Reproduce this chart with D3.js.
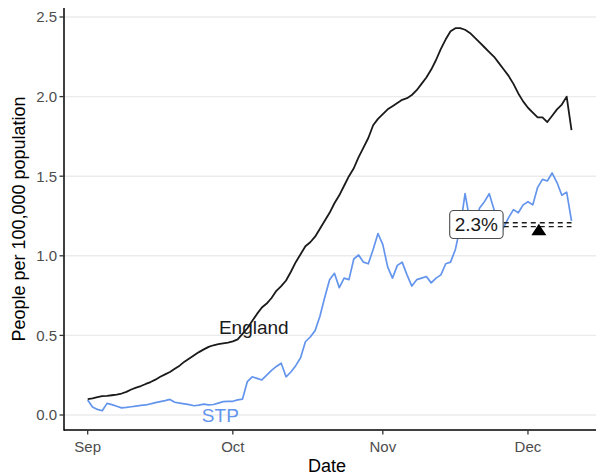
<!DOCTYPE html>
<html>
<head>
<meta charset="utf-8">
<script src="https://cdn.jsdelivr.net/npm/d3@7"></script>
<style>
  html, body { margin: 0; padding: 0; background: #fff; }
  svg { display: block; font-family: "Liberation Sans", Arial, sans-serif; }
</style>
</head>
<body>
<svg id="chart" width="596" height="475"></svg>
<script>
// ---- Data ----
const startDate = new Date(2020, 8, 1); // 1 Sep
const england = [
  0.100, 0.105, 0.112, 0.118, 0.120, 0.124, 0.128, 0.135, 0.145, 0.160,
  0.172, 0.182, 0.195, 0.207, 0.222, 0.240, 0.255, 0.270, 0.290, 0.310,
  0.335, 0.355, 0.375, 0.395, 0.412, 0.428, 0.438, 0.445, 0.450, 0.455,
  0.462, 0.475, 0.510, 0.545, 0.590, 0.635, 0.675, 0.700, 0.735, 0.780,
  0.810, 0.845, 0.900, 0.960, 1.010, 1.060, 1.085, 1.120, 1.170, 1.220,
  1.270, 1.330, 1.380, 1.440, 1.500, 1.550, 1.620, 1.680, 1.740, 1.820,
  1.860, 1.890, 1.920, 1.940, 1.960, 1.980, 1.990, 2.010, 2.040, 2.080,
  2.120, 2.170, 2.230, 2.300, 2.360, 2.410, 2.430, 2.430, 2.420, 2.400,
  2.370, 2.340, 2.310, 2.280, 2.250, 2.210, 2.170, 2.130, 2.080, 2.020,
  1.970, 1.930, 1.900, 1.870, 1.870, 1.840, 1.880, 1.920, 1.950, 2.000,
  1.790
];
const stp = [
  0.094, 0.050, 0.035, 0.027, 0.073, 0.065, 0.055, 0.045, 0.048, 0.052,
  0.056, 0.060, 0.063, 0.070, 0.078, 0.084, 0.090, 0.098, 0.080, 0.075,
  0.070, 0.065, 0.058, 0.062, 0.068, 0.064, 0.066, 0.075, 0.084, 0.085,
  0.086, 0.095, 0.100, 0.210, 0.240, 0.230, 0.220, 0.250, 0.280, 0.305,
  0.325, 0.240, 0.270, 0.310, 0.360, 0.460, 0.490, 0.530, 0.620, 0.740,
  0.850, 0.890, 0.800, 0.860, 0.850, 0.980, 1.005, 0.960, 0.950, 1.040,
  1.140, 1.070, 0.930, 0.860, 0.940, 0.960, 0.880, 0.810, 0.850, 0.860,
  0.870, 0.830, 0.860, 0.880, 0.950, 0.960, 1.040, 1.180, 1.390, 1.220,
  1.180, 1.300, 1.340, 1.390, 1.290, 1.120, 1.180, 1.240, 1.290, 1.270,
  1.320, 1.340, 1.320, 1.430, 1.480, 1.470, 1.520, 1.460, 1.380, 1.400,
  1.220
];
const yTicks = [0, 0.5, 1.0, 1.5, 2.0, 2.5];
const xTickDates = [new Date(2020, 8, 1), new Date(2020, 9, 1), new Date(2020, 10, 1), new Date(2020, 11, 1)];
const xTickLabels = ["Sep", "Oct", "Nov", "Dec"];

// Annotation values
const seriesLabels = [
  { text: "England", date: new Date(2020, 9, 5, 8), value: 0.553, color: "#1a1a1a" },
  { text: "STP", date: new Date(2020, 8, 28, 10), value: 0.0, color: "#6495ED" }
];
const pctLabel = { text: "2.3%", date: new Date(2020, 10, 20, 8), value: 1.19 };
const refLines = [
  { from: new Date(2020, 10, 26), to: new Date(2020, 11, 10), value: 1.208 },
  { from: new Date(2020, 10, 26), to: new Date(2020, 11, 10), value: 1.183 }
];
const refPoint = { date: new Date(2020, 11, 3, 6), value: 1.163 };

// ---- Chart ----
const dates = england.map((_, i) => d3.timeDay.offset(startDate, i));
const svg = d3.select("#chart");

const x = d3.scaleTime()
  .domain([new Date(2020, 7, 27), new Date(2020, 11, 15)])
  .range([63.5, 595.7]);
const y = d3.scaleLinear().domain([0, 2.5]).range([415, 17]);
const panelTop = 8, panelBottom = 430, panelLeft = 64, panelRight = 596;

// grid
svg.append("g").selectAll("line").data(yTicks).join("line")
  .attr("x1", panelLeft).attr("x2", panelRight)
  .attr("y1", d => y(d)).attr("y2", d => y(d))
  .attr("stroke", "#ebebeb").attr("stroke-width", 1.4);

// lines
const line = d3.line().x((d, i) => x(dates[i])).y(d => y(d));
svg.append("path").datum(stp)
  .attr("d", line).attr("fill", "none")
  .attr("stroke", "#6495ED").attr("stroke-width", 1.7).attr("stroke-linejoin", "round");
svg.append("path").datum(england)
  .attr("d", line).attr("fill", "none")
  .attr("stroke", "#1a1a1a").attr("stroke-width", 1.8).attr("stroke-linejoin", "round");

// reference dashed lines
svg.append("g").selectAll("line").data(refLines).join("line")
  .attr("x1", d => x(d.from)).attr("x2", d => x(d.to))
  .attr("y1", d => y(d.value)).attr("y2", d => y(d.value))
  .attr("stroke", "#1a1a1a").attr("stroke-width", 1.4)
  .attr("stroke-dasharray", "5,4");

// triangle
{
  const cx = x(refPoint.date), cy = y(refPoint.value);
  svg.append("path")
    .attr("d", `M${cx - 7.5},${cy + 5.5}L${cx + 7.5},${cy + 5.5}L${cx},${cy - 6}Z`)
    .attr("fill", "#000");
}

// percentage label box
{
  const cx = x(pctLabel.date), cy = y(pctLabel.value) - 1;
  const g = svg.append("g");
  const t = g.append("text")
    .attr("x", cx).attr("y", cy).attr("dy", "0.36em")
    .attr("text-anchor", "middle")
    .attr("font-size", 19).attr("fill", "#1a1a1a")
    .text(pctLabel.text);
  const bb = t.node().getBBox();
  g.insert("rect", "text")
    .attr("x", bb.x - 5).attr("y", cy - 14)
    .attr("width", bb.width + 10).attr("height", 28)
    .attr("rx", 4).attr("ry", 4)
    .attr("fill", "#fff").attr("stroke", "#4d4d4d").attr("stroke-width", 1.1);
}

// series labels
svg.append("g").selectAll("text").data(seriesLabels).join("text")
  .attr("x", d => x(d.date)).attr("y", d => y(d.value))
  .attr("dy", "0.36em").attr("text-anchor", "middle")
  .attr("font-size", 19).attr("fill", d => d.color)
  .text(d => d.text);

// axes
const axisG = svg.append("g");
axisG.append("line")
  .attr("x1", panelLeft).attr("x2", panelLeft)
  .attr("y1", panelTop).attr("y2", panelBottom + 0.7)
  .attr("stroke", "#000").attr("stroke-width", 1.5);
axisG.append("line")
  .attr("x1", panelLeft).attr("x2", panelRight)
  .attr("y1", panelBottom).attr("y2", panelBottom)
  .attr("stroke", "#000").attr("stroke-width", 1.5);

// y ticks
axisG.selectAll(".yt").data(yTicks).join("line").attr("class", "yt")
  .attr("x1", panelLeft - 4.5).attr("x2", panelLeft)
  .attr("y1", d => y(d)).attr("y2", d => y(d))
  .attr("stroke", "#333").attr("stroke-width", 1.3);
axisG.selectAll(".yl").data(yTicks).join("text").attr("class", "yl")
  .attr("x", panelLeft - 7).attr("y", d => y(d)).attr("dy", "0.36em")
  .attr("text-anchor", "end").attr("font-size", 15).attr("fill", "#4d4d4d")
  .text(d => d3.format(".1f")(d));

// x ticks
axisG.selectAll(".xt").data(xTickDates).join("line").attr("class", "xt")
  .attr("x1", d => x(d)).attr("x2", d => x(d))
  .attr("y1", panelBottom).attr("y2", panelBottom + 4.5)
  .attr("stroke", "#333").attr("stroke-width", 1.3);
axisG.selectAll(".xl").data(xTickDates).join("text").attr("class", "xl")
  .attr("x", d => x(d)).attr("y", panelBottom + 22)
  .attr("text-anchor", "middle").attr("font-size", 15).attr("fill", "#4d4d4d")
  .text((d, i) => xTickLabels[i]);

// axis titles
svg.append("text")
  .attr("x", 327).attr("y", 472)
  .attr("text-anchor", "middle").attr("font-size", 18).attr("fill", "#000")
  .text("Date");
svg.append("text")
  .attr("transform", `translate(24.5, ${(panelTop + panelBottom) / 2}) rotate(-90)`)
  .attr("text-anchor", "middle").attr("font-size", 18).attr("fill", "#000")
  .text("People per 100,000 population");
</script>
</body>
</html>
